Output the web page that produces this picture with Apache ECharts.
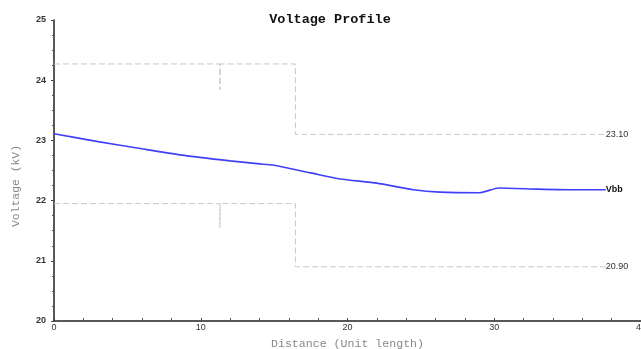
<!DOCTYPE html>
<html>
<head>
<meta charset="utf-8">
<script src="https://cdn.jsdelivr.net/npm/echarts@6/dist/echarts.min.js"></script>
<style>html,body{margin:0;padding:0;background:#fff}#c{width:641px;height:349px}</style>
</head>
<body>
<div id="c"></div>
<script>
// Distance (unit length) and voltage (kV) along the feeder
const vbbX = [0, 3, 6, 8.6, 12, 14.0, 14.9, 17.5, 19.5, 22.0, 24.5, 26.3, 29.0, 30.3, 33.0, 35.2, 37.6];
const vbbY = [23.11, 22.98, 22.86, 22.76, 22.66, 22.61, 22.59, 22.46, 22.36, 22.29, 22.18, 22.14, 22.13, 22.21, 22.19, 22.18, 22.18];
// Upper limit profile
const upperX = [0, 11.30, 11.30, 11.33, 16.45, 16.45, 37.6];
const upperY = [24.27, 24.27, 23.84, 24.27, 24.27, 23.10, 23.10];
// Lower limit profile
const lowerX = [0, 11.30, 11.30, 11.33, 16.45, 16.45, 37.6];
const lowerY = [21.95, 21.95, 21.55, 21.95, 21.95, 20.90, 20.90];
const xTicks = [0, 10, 20, 30, 40];
const yTicks = [20, 21, 22, 23, 24, 25];

const zip = (a, b) => a.map((v, i) => [v, b[i]]);
const chart = echarts.init(document.getElementById('c'), null, {renderer: 'canvas'});
const dashStyle = {color: '#c8c8c8', width: 1, type: [6, 3]};
chart.setOption({
  animation: false,
  title: {
    text: 'Voltage Profile', left: 325, top: 8, textAlign: 'center',
    textStyle: {fontFamily: 'Liberation Mono', fontWeight: 'bold', fontSize: 13.5, color: '#111'}
  },
  grid: {left: 54, right: 0, top: 20, bottom: 28, containLabel: false, outerBoundsMode: 'none'},
  xAxis: {
    type: 'value', min: xTicks[0], max: xTicks[xTicks.length - 1], interval: 10,
    axisLine: {show: true, lineStyle: {color: '#222', width: 1.5}},
    axisTick: {show: true, inside: true, length: 3, lineStyle: {color: '#444'}},
    minorTick: {show: true, splitNumber: 5, length: 3, lineStyle: {color: '#555'}},
    splitLine: {show: false},
    axisLabel: {fontSize: 9, color: '#333', margin: 2, fontFamily: 'Arial'},
    name: 'Distance (Unit length)', nameLocation: 'middle', nameGap: 17,
    nameTextStyle: {fontFamily: 'Liberation Mono', fontSize: 11.6, color: '#888'}
  },
  yAxis: {
    type: 'value', min: yTicks[0], max: yTicks[yTicks.length - 1], interval: 1, offset: 6,
    axisLine: {show: true, lineStyle: {color: '#222', width: 1.5}},
    axisTick: {show: true, length: 3, lineStyle: {color: '#444'}},
    minorTick: {show: true, splitNumber: 4, length: 2, lineStyle: {color: '#555'}},
    splitLine: {show: false},
    axisLabel: {fontSize: 9, color: '#333', margin: 2, fontFamily: 'Arial', fontWeight: 'bold'}
  },
  graphic: [{
    type: 'text', left: 10, top: 145, rotation: Math.PI / 2,
    style: {text: 'Voltage (kV)', fontFamily: 'Liberation Mono', fontSize: 11.4, fill: '#888'}
  }],
  series: [
    {
      type: 'line', data: zip(upperX, upperY), symbol: 'none', silent: true,
      lineStyle: dashStyle,
      endLabel: {show: true, formatter: '23.10', fontSize: 9, color: '#333', fontFamily: 'Arial', distance: 0}
    },
    {
      type: 'line', data: zip(lowerX, lowerY), symbol: 'none', silent: true,
      lineStyle: dashStyle,
      endLabel: {show: true, formatter: '20.90', fontSize: 9, color: '#333', fontFamily: 'Arial', distance: 0}
    },
    {
      type: 'line', data: zip(vbbX, vbbY), symbol: 'none', smooth: 0.2,
      lineStyle: {color: '#4040f8', width: 1.6},
      endLabel: {show: true, formatter: 'Vbb', fontSize: 9, color: '#111', fontFamily: 'Arial', fontWeight: 'bold', distance: 0}
    }
  ]
});
</script>
</body>
</html>
